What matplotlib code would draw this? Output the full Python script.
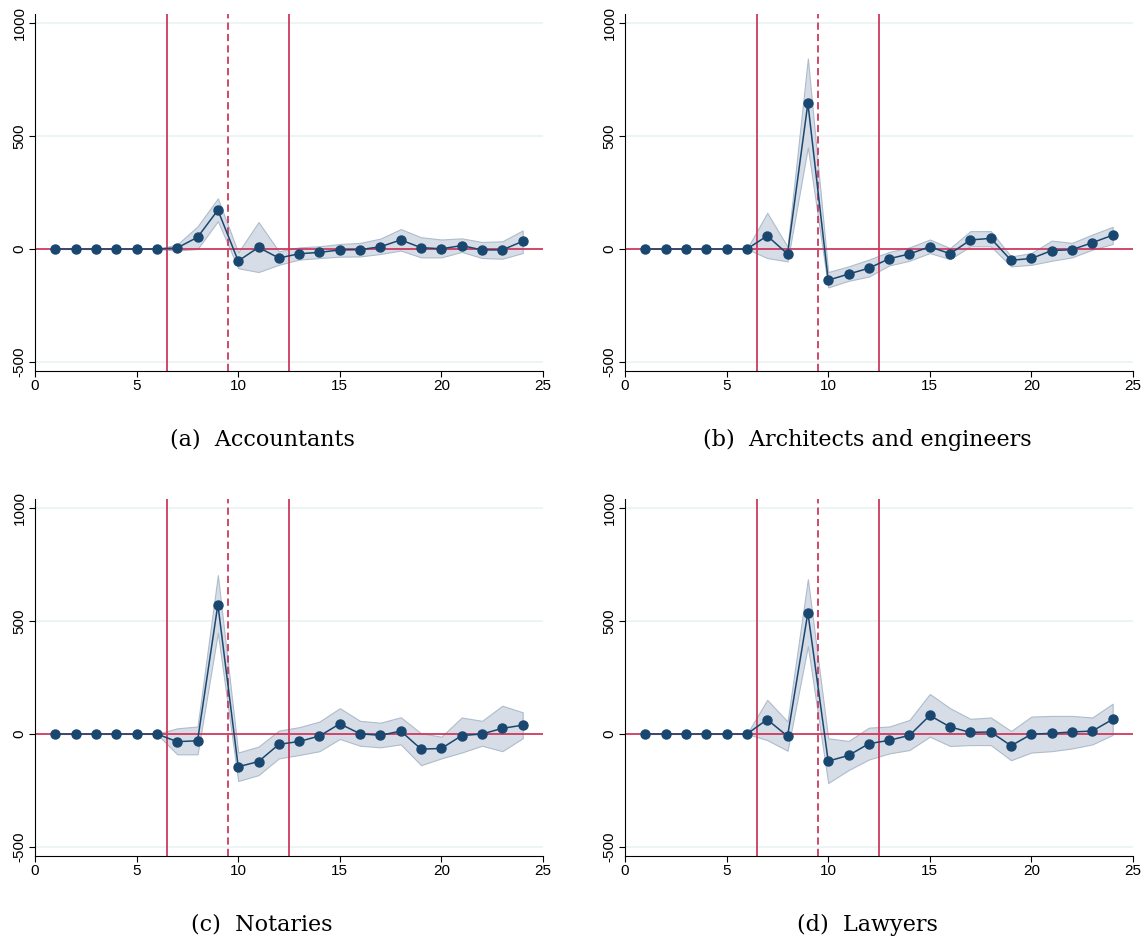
import numpy as np
import matplotlib.pyplot as plt
import matplotlib as mpl

mpl.rcParams['font.family'] = 'Liberation Sans'

# Periods on the x axis
periods = np.arange(1, 25)

# Point estimates and confidence bands
acc_est = [0, 0, 0, 0, 0, 0, 5, 52, 172, -53, 7, -40, -21, -15, -4, -3, 10, 40, 6, 1, 15, -4, -4, 34]
acc_hi = [0, 0, 0, 0, 0, 0, 20, 100, 224, -15, 119, -10, 7, 12, 22, 27, 46, 88, 52, 42, 47, 31, 34, 82]
acc_lo = [0, 0, 0, 0, 0, 0, -7, 0, 123, -85, -102, -70, -47, -40, -34, -33, -22, -7, -37, -37, -13, -40, -43, -18]

arch_est = [0, 0, 0, 0, 0, 0, 58, -22, 645, -138, -111, -85, -43, -22, 10, -21, 40, 47, -50, -42, -7, -3, 28, 61]
arch_hi = [0, 0, 0, 0, 0, 0, 160, 10, 843, -102, -77, -47, -13, 7, 42, 4, 79, 79, -33, -18, 37, 27, 64, 98]
arch_lo = [0, 0, 0, 0, 0, 0, -40, -55, 450, -170, -141, -122, -73, -52, -18, -45, 12, 12, -77, -70, -52, -37, -3, 22]

not_est = [0, 0, 0, 0, 0, 0, -34, -30, 573, -145, -122, -46, -33, -9, 45, 1, -6, 13, -67, -64, -7, 0, 25, 39]
not_hi = [0, 0, 0, 0, 0, 0, 25, 33, 703, -82, -56, 15, 30, 55, 114, 58, 50, 74, 3, -12, 73, 58, 125, 96]
not_lo = [0, 0, 0, 0, 0, 0, -90, -90, 448, -208, -182, -108, -93, -76, -22, -52, -59, -46, -138, -108, -82, -52, -76, -19]

law_est = [0, 0, 0, 0, 0, 0, 64, -10, 537, -120, -95, -43, -28, -6, 82, 31, 7, 9, -52, -1, 3, 9, 13, 65]
law_hi = [0, 0, 0, 0, 0, 0, 151, 55, 685, -19, -31, 28, 33, 62, 177, 114, 67, 73, 13, 77, 80, 80, 73, 134]
law_lo = [0, 0, 0, 0, 0, 0, -27, -74, 389, -217, -160, -113, -86, -71, -12, -53, -49, -49, -116, -82, -76, -64, -46, -4]

titles = ["(a)  Accountants", "(b)  Architects and engineers",
          "(c)  Notaries", "(d)  Lawyers"]
panels = [(acc_est, acc_lo, acc_hi), (arch_est, arch_lo, arch_hi),
          (not_est, not_lo, not_hi), (law_est, law_lo, law_hi)]

event_lines = [6.5, 12.5]
dashed_line = 9.5

navy = "#1a476f"
red = "#cc3a5e"

W, H = 1146, 939
fig = plt.figure(figsize=(W / 100, H / 100), dpi=100)

# axes boxes in pixels: left, top ; caption centre x, y
boxes = [(35, 14), (625, 14), (35, 499), (625, 499)]
caps = [(262, 440), (867, 440), (262, 925), (867, 925)]
aw, ah = 508, 357

for (est, lo, hi), title, (px, py), (cx, cy) in zip(panels, titles, boxes, caps):
    ax = fig.add_axes([px / W, 1 - (py + ah) / H, aw / W, ah / H])
    ax.set_xlim(0, 25)
    ax.set_ylim(-540, 1040)
    for y in [-500, 500, 1000]:
        ax.axhline(y, color="#eaf2f3", lw=1.2, zorder=0)
    ax.fill_between(periods, lo, hi, color="#d6dde6", edgecolor="#aebccb", lw=0.8, zorder=1)
    ax.axhline(0, color=red, lw=1.3, zorder=2)
    for xv in event_lines:
        ax.axvline(xv, color=red, lw=1.3, zorder=2)
    ax.axvline(dashed_line, color=red, lw=1.3, ls=(0, (4, 2.3)), zorder=2)
    ax.plot(periods, est, color=navy, lw=1.1, marker="o", ms=6.5, zorder=3)

    ax.spines['top'].set_visible(False)
    ax.spines['right'].set_visible(False)
    ax.set_xticks([0, 5, 10, 15, 20, 25])
    ax.set_yticks([-500, 0, 500, 1000])
    ax.set_yticklabels(["-500", "0", "500", "1000"], rotation=90, va="center")
    ax.tick_params(labelsize=11, length=4, width=0.8, pad=2)
    fig.text(cx / W, 1 - cy / H, title, ha="center", va="center",
             fontsize=16, family="DejaVu Serif")

plt.savefig("out.png", dpi=100)
